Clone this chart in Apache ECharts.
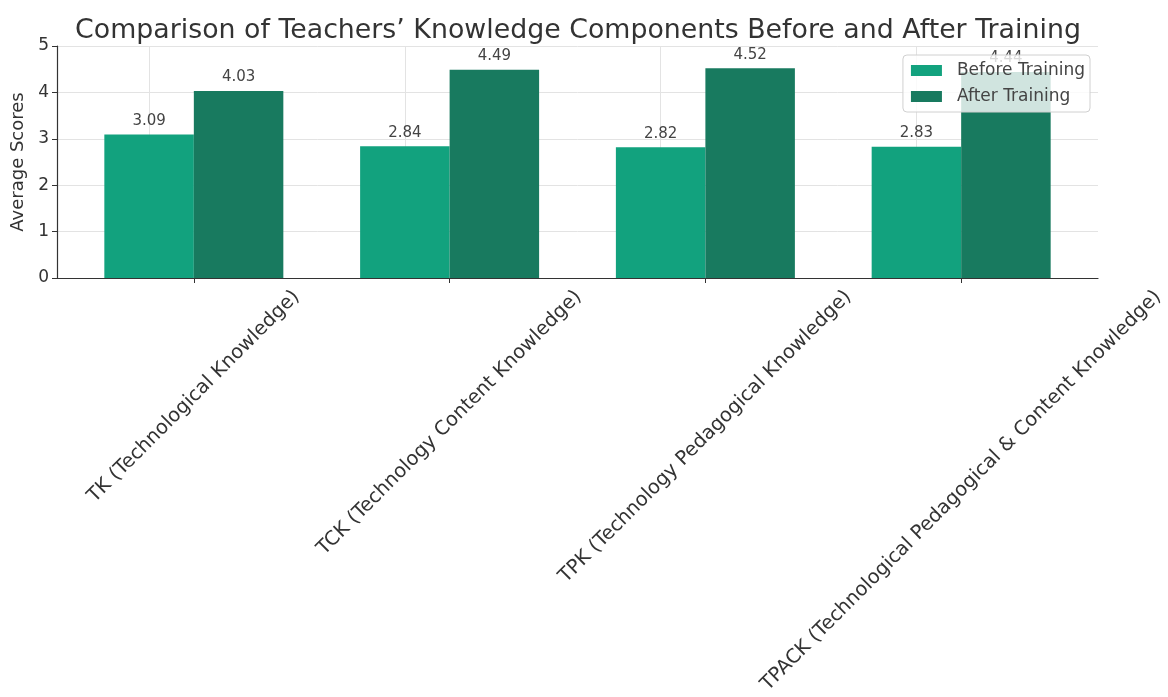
<!DOCTYPE html>
<html>
<head>
<meta charset="utf-8">
<script src="https://cdn.jsdelivr.net/npm/echarts@6/dist/echarts.min.js"></script>
<style>html,body{margin:0;padding:0;background:#fff;}#c{width:1168px;height:697px;}</style>
</head>
<body>
<div id="c"></div>
<script>
const categories = [
  "TK (Technological Knowledge)",
  "TCK (Technology Content Knowledge)",
  "TPK (Technology Pedagogical Knowledge)",
  "TPACK (Technological Pedagogical & Content Knowledge)"
];
const beforeTraining = [3.09, 2.84, 2.82, 2.83];
const afterTraining = [4.03, 4.49, 4.52, 4.44];
const yTicks = [0, 1, 2, 3, 4, 5];

const FONT = "'DejaVu Sans', sans-serif";
const chart = echarts.init(document.getElementById('c'), null, {renderer: 'canvas'});

function pts(arr) { return arr.map((v, i) => [i, v]); }

const option = {
  animation: false,
  backgroundColor: '#fff',
  title: {
    text: 'Comparison of Teachers\u2019 Knowledge Components Before and After Training',
    left: 573, top: 13, textAlign: 'center',
    textStyle: {fontFamily: FONT, fontSize: 26.8, fontWeight: 'normal', color: '#333'}
  },
  legend: {
    orient: 'vertical', right: 78, top: 55,
    data: ['Before Training', 'After Training'],
    icon: 'rect', itemWidth: 31, itemHeight: 11, itemGap: 9,
    backgroundColor: 'rgba(255,255,255,0.8)', borderColor: '#d0d0d0', borderWidth: 1, borderRadius: 4,
    padding: [7, 5, 7, 8],
    textStyle: {fontFamily: FONT, fontSize: 17, color: '#444', padding: [0, 0, 0, 10]}
  },
  grid: {left: 57, right: 70, top: 46, bottom: 419, containLabel: false},
  xAxis: {
    type: 'value', min: -0.535, max: 3.535,
    axisLine: {show: true, onZero: false, lineStyle: {color: '#333', width: 1.2}},
    axisTick: {show: true, customValues: [0, 1, 2, 3], length: 5, lineStyle: {color: '#333'}},
    axisLabel: {show: false, customValues: [0, 1, 2, 3]},
    splitLine: {show: false}
  },
  yAxis: {
    type: 'value', min: yTicks[0], max: yTicks[yTicks.length - 1], interval: 1,
    name: 'Average Scores', nameLocation: 'middle', nameGap: 30,
    nameTextStyle: {fontFamily: FONT, fontSize: 18, color: '#333'},
    axisLine: {show: true, onZero: false, lineStyle: {color: '#333', width: 1.2}},
    axisTick: {show: true, length: 5, lineStyle: {color: '#333'}},
    axisLabel: {fontFamily: FONT, fontSize: 17, color: '#333', margin: 8},
    splitLine: {show: true, lineStyle: {color: '#e3e3e3', width: 1}}
  },
  series: [
    {
      name: 'Before Training', type: 'bar', data: pts(beforeTraining),
      barWidth: 89.5, barGap: '0%', itemStyle: {color: '#12a27e'}, z: 3,
      label: {show: true, position: 'top', distance: 6, fontFamily: FONT, fontSize: 15, color: '#444',
              formatter: p => p.value[1].toFixed(2)},
      markLine: {
        silent: true, symbol: 'none', z: 1,
        label: {show: false},
        lineStyle: {color: '#e3e3e3', width: 1, type: 'solid'},
        data: categories.map((c, i) => ({xAxis: i}))
      }
    },
    {
      name: 'After Training', type: 'bar', data: pts(afterTraining),
      barWidth: 89.5, barGap: '0%', itemStyle: {color: '#187a5f'}, z: 3,
      label: {show: true, position: 'top', distance: 6, fontFamily: FONT, fontSize: 15, color: '#444',
              formatter: p => p.value[1].toFixed(2)}
    }
  ]
};
chart.setOption(option);

// rotated, centre-aligned category labels
const LABEL_SIZE = 19.5;
const ctx = document.createElement('canvas').getContext('2d');
ctx.font = LABEL_SIZE + 'px ' + FONT;
const axisY = chart.convertToPixel({yAxisIndex: 0}, 0);
const graphics = categories.map((c, i) => {
  const L = ctx.measureText(c).width;
  const h = LABEL_SIZE;
  const bboxH = (L + h) * Math.SQRT1_2;
  const cx = chart.convertToPixel({xAxisIndex: 0}, i);
  const cy = axisY + 9 + bboxH / 2;
  return {
    type: 'text', x: cx, y: cy, rotation: Math.PI / 4, silent: true,
    style: {text: c, font: LABEL_SIZE + 'px ' + FONT, fill: '#333', textAlign: 'center', textVerticalAlign: 'middle'}
  };
});
chart.setOption({graphic: graphics});
</script>
</body>
</html>
